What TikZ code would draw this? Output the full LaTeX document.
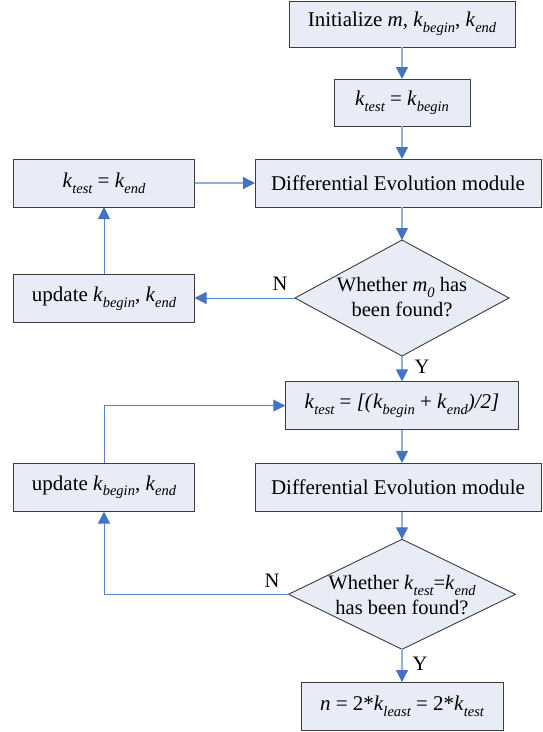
\documentclass[tikz,border=0pt]{standalone}
\usepackage{fontspec}
\setmainfont{Liberation Serif}
\usetikzlibrary{arrows.meta,shapes.geometric}

\definecolor{boxfill}{RGB}{231,236,246}
\definecolor{boxline}{RGB}{60,60,60}
\definecolor{lineblue}{RGB}{142,176,224}
\definecolor{loopblue}{RGB}{84,130,200}
\definecolor{headblue}{RGB}{68,114,196}

% italic variable with a lowered italic index
\newcommand{\subidx}[1]{\raisebox{-0.28em}{\fontsize{14.5}{14.5}\selectfont\itshape #1}}
\newcommand{\kv}[1]{\textit{k}\subidx{#1}}

\tikzset{
  stepbox/.style={draw=boxline, fill=boxfill, line width=0.9pt, inner sep=0pt,
    outer sep=0pt, font=\fontsize{21}{24}\selectfont},
  decision/.style={shape=diamond, draw=boxline, fill=boxfill, line width=0.9pt,
    inner sep=0pt, outer sep=0pt},
  dtext/.style={align=center, font=\fontsize{20.5}{25}\selectfont},
  yn/.style={font=\fontsize{20.5}{24}\selectfont, inner sep=0pt},
  arr/.style={draw=lineblue, line width=1.2pt,
    -{Triangle[width=12pt,length=12pt,color=headblue]}},
  looparr/.style={draw=loopblue, line width=1pt,
    -{Triangle[width=12pt,length=12pt,color=headblue]}},
}

\begin{document}
\begin{tikzpicture}[x=1pt,y=-1pt]
\useasboundingbox (0,0) rectangle (542,732);

% main column
\node[stepbox, minimum width=226pt, minimum height=46pt] (init) at (402,24)
  {Initialize \textit{m}, \kv{begin}, \kv{end}};
\node[stepbox, minimum width=136pt, minimum height=47pt] (kb) at (402,102.5)
  {\kv{test} = \kv{begin}};
\node[stepbox, minimum width=286pt, minimum height=48pt] (de1) at (398,183)
  {Differential Evolution module};
\node[decision, minimum width=214pt, minimum height=116pt] (dia1) at (402,298) {};
\node[dtext] (dia1t) at (402,297.5) {Whether \textit{m}\subidx{0} has\\been found?};
\node[stepbox, minimum width=233.5pt, minimum height=48.4pt] (mid) at (402,405.6)
  {\kv{test} = \textit{[(}\kv{begin} + \kv{end}\textit{)/2]}};
\node[stepbox, minimum width=286pt, minimum height=48.7pt] (de2) at (398,487.3)
  {Differential Evolution module};
\node[decision, minimum width=227pt, minimum height=110pt] (dia2) at (402,594.3) {};
\node[dtext] (dia2t) at (402,595) {Whether \kv{test}=\kv{end}\\has been found?};
\node[stepbox, minimum width=202pt, minimum height=48pt] (fin) at (402,706)
  {\textit{n} = 2*\kv{least} = 2*\kv{test}};

% side column
\node[stepbox, minimum width=181pt, minimum height=48pt] (kend) at (104,183)
  {\kv{test} = \kv{end}};
\node[stepbox, minimum width=181pt, minimum height=48.4pt] (upd1) at (104,298.6)
  {update \kv{begin}, \kv{end}};
\node[stepbox, minimum width=181pt, minimum height=48.7pt] (upd2) at (104,487.3)
  {update \kv{begin}, \kv{end}};

% branch labels
\node[yn] (n1) at (280,284) {N};
\node[yn] (y1) at (422,367) {Y};
\node[yn] (n2) at (272,581) {N};
\node[yn] (y2) at (420,664) {Y};

% connectors
\draw[arr] (init.south) -- (kb.north);
\draw[arr] (kb.south) -- (kb.south |- de1.north);
\draw[arr] (de1.south -| dia1.north) -- (dia1.north);
\draw[looparr] (dia1.west) -- (dia1.west -| upd1.east);
\draw[looparr] (upd1.north) -- (kend.south);
\draw[arr] (kend.east) -- (kend.east -| de1.west);
\draw[arr] (dia1.south) -- (mid.north);
\draw[arr] (mid.south) -- (mid.south |- de2.north);
\draw[arr] (de2.south -| dia2.north) -- (dia2.north);
\draw[arr] (dia2.south) -- (fin.north);
\draw[looparr] (dia2.west) -| (upd2.south);
\draw[looparr] (upd2.north) |- (mid.west);
\end{tikzpicture}
\end{document}
